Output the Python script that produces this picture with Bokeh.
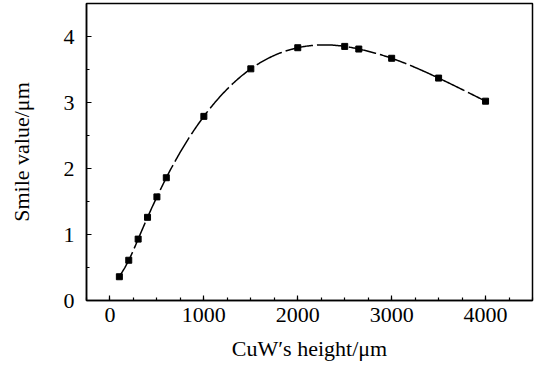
import numpy as np
from bokeh.plotting import figure
from bokeh.models import Range1d, FixedTicker
from bokeh.embed import file_html
from bokeh.resources import INLINE

# data
height_um = [100, 200, 300, 400, 500, 600, 1000, 1500, 2000, 2500, 2650, 3000, 3500, 4000]
smile_um = [0.36, 0.61, 0.93, 1.26, 1.57, 1.86, 2.79, 3.51, 3.83, 3.85, 3.81, 3.67, 3.37, 3.02]
x_major = [0, 1000, 2000, 3000, 4000]
y_major = [0, 1, 2, 3, 4]


def natural_spline(x, y, n=400):
    x = np.asarray(x, float)
    y = np.asarray(y, float)
    k = len(x)
    h = np.diff(x)
    A = np.zeros((k, k))
    b = np.zeros(k)
    A[0, 0] = A[-1, -1] = 1.0
    for i in range(1, k - 1):
        A[i, i - 1] = h[i - 1]
        A[i, i] = 2 * (h[i - 1] + h[i])
        A[i, i + 1] = h[i]
        b[i] = 6 * ((y[i + 1] - y[i]) / h[i] - (y[i] - y[i - 1]) / h[i - 1])
    M = np.linalg.solve(A, b)
    xs = np.linspace(x[0], x[-1], n)
    idx = np.clip(np.searchsorted(x, xs) - 1, 0, k - 2)
    x0, x1 = x[idx], x[idx + 1]
    hh = x1 - x0
    t0 = x1 - xs
    t1 = xs - x0
    ys = (M[idx] * t0 ** 3 + M[idx + 1] * t1 ** 3) / (6 * hh) \
        + (y[idx] / hh - M[idx] * hh / 6) * t0 \
        + (y[idx + 1] / hh - M[idx + 1] * hh / 6) * t1
    return xs, ys


p = figure(width=534, height=372, output_backend="svg", toolbar_location=None,
           x_range=Range1d(-250, 4500), y_range=Range1d(0, 4.5),
           min_border_left=86, min_border_right=2, min_border_top=3, min_border_bottom=72)

p.xgrid.visible = False
p.ygrid.visible = False
p.outline_line_color = "black"
p.outline_line_width = 1.5
p.background_fill_color = "white"
p.border_fill_color = "white"

sx, sy = natural_spline(height_um, smile_um)
p.line(sx, sy, line_color="black", line_width=1.5, line_dash="28 4")
p.scatter(height_um, smile_um, marker="square", size=6, fill_color="black", line_color="black")

font = "Liberation Serif"
for ax in (p.xaxis[0], p.yaxis[0]):
    ax.axis_line_width = 1.5
    ax.axis_line_color = "black"
    ax.major_tick_in = 5
    ax.major_tick_out = 0
    ax.minor_tick_in = 3
    ax.minor_tick_out = 0
    ax.major_tick_line_width = 1.2
    ax.minor_tick_line_width = 1.2
    ax.major_label_text_font = font
    ax.major_label_text_font_size = "22px"
    ax.major_label_text_color = "black"
    ax.axis_label_text_font = font
    ax.axis_label_text_font_size = "22px"
    ax.axis_label_text_font_style = "normal"
    ax.axis_label_text_color = "black"

p.xaxis[0].ticker = FixedTicker(ticks=x_major, minor_ticks=list(range(-250, 4501, 250)))
p.yaxis[0].ticker = FixedTicker(ticks=y_major, minor_ticks=[i * 0.5 for i in range(10)])
p.xaxis[0].axis_label = "CuW\u2032s height/\u03bcm"
p.yaxis[0].axis_label = "Smile value/\u03bcm"
p.xaxis[0].major_label_standoff = 7
p.yaxis[0].major_label_standoff = 12
p.xaxis[0].axis_label_standoff = 11
p.yaxis[0].axis_label_standoff = 27

open("out.html", "w").write(file_html(p, INLINE))
